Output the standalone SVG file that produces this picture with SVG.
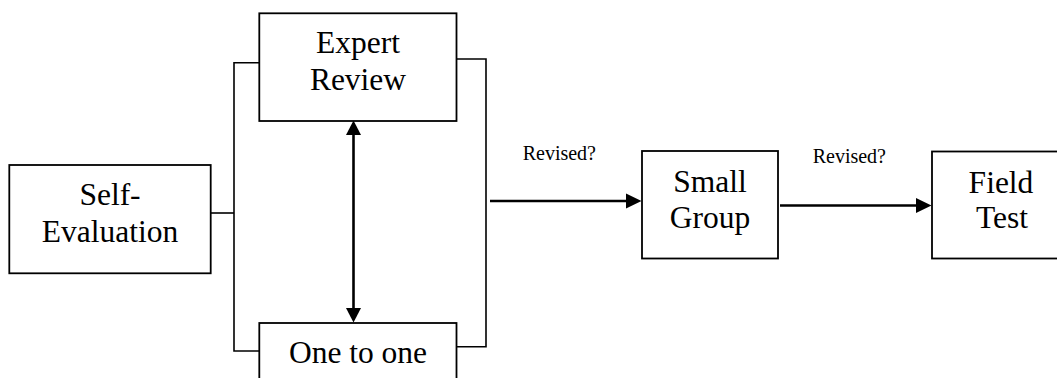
<svg xmlns="http://www.w3.org/2000/svg" width="1057" height="378" viewBox="0 0 1057 378">
<style>
.box{fill:#fff;stroke:#000;stroke-width:1.8}
.lbl{font-size:31.5px;fill:#000;text-anchor:middle}
.small{font-size:20px;fill:#000}
.br{fill:none;stroke:#000;stroke-width:1.6}
.arr{fill:none;stroke:#000;stroke-width:2.6}
.head{fill:#000;stroke:none}
</style>
<rect width="1057" height="378" fill="#fff"/>
<g id="connectors" font-family="Liberation Serif, Tinos, Times New Roman, DejaVu Serif, serif">
<polyline class="br" points="259.3,62.8 234,62.8 234,351 259.3,351"/>
<line class="br" x1="210.7" y1="213" x2="234" y2="213"/>
<polyline class="br" points="456.5,59 486,59 486,346.7 456.5,346.7"/>
<line class="arr" x1="353.5" y1="132" x2="353.5" y2="311"/>
<path class="head" d="M353.5,120.5 L361,135 L346,135 Z"/>
<path class="head" d="M353.5,322.5 L361,308 L346,308 Z"/>
<line class="arr" x1="490" y1="201" x2="630" y2="201"/>
<path class="head" d="M641.5,201 L626,193.5 L626,208.5 Z"/>
<line class="arr" x1="780" y1="205.5" x2="920" y2="205.5"/>
<path class="head" d="M931.5,205.5 L916,198 L916,213 Z"/>
<text class="small" x="522.7" y="160">Revised?</text>
<text class="small" x="812.7" y="163.3">Revised?</text>
</g>
<g id="self-evaluation" font-family="Liberation Serif, Tinos, Times New Roman, DejaVu Serif, serif">
<rect class="box" x="9.3" y="165" width="201.4" height="108.3"/>
<text class="lbl" x="110" y="205">Self-</text>
<text class="lbl" x="110" y="241.7">Evaluation</text>
</g>
<g id="expert-review" font-family="Liberation Serif, Tinos, Times New Roman, DejaVu Serif, serif">
<rect class="box" x="259.3" y="13.3" width="197.2" height="107.7"/>
<text class="lbl" x="358" y="53.3">Expert</text>
<text class="lbl" x="358" y="89.5">Review</text>
</g>
<g id="one-to-one" font-family="Liberation Serif, Tinos, Times New Roman, DejaVu Serif, serif">
<rect class="box" x="259.3" y="323" width="197.2" height="100"/>
<text class="lbl" x="358" y="363">One to one</text>
</g>
<g id="small-group" font-family="Liberation Serif, Tinos, Times New Roman, DejaVu Serif, serif">
<rect class="box" x="642" y="151" width="136" height="107.5"/>
<text class="lbl" x="710" y="191.7">Small</text>
<text class="lbl" x="710" y="227.5">Group</text>
</g>
<g id="field-test" font-family="Liberation Serif, Tinos, Times New Roman, DejaVu Serif, serif">
<rect class="box" x="932" y="151.5" width="140" height="107"/>
<text class="lbl" x="1001" y="193">Field</text>
<text class="lbl" x="1002" y="227.5">Test</text>
</g>
</svg>
